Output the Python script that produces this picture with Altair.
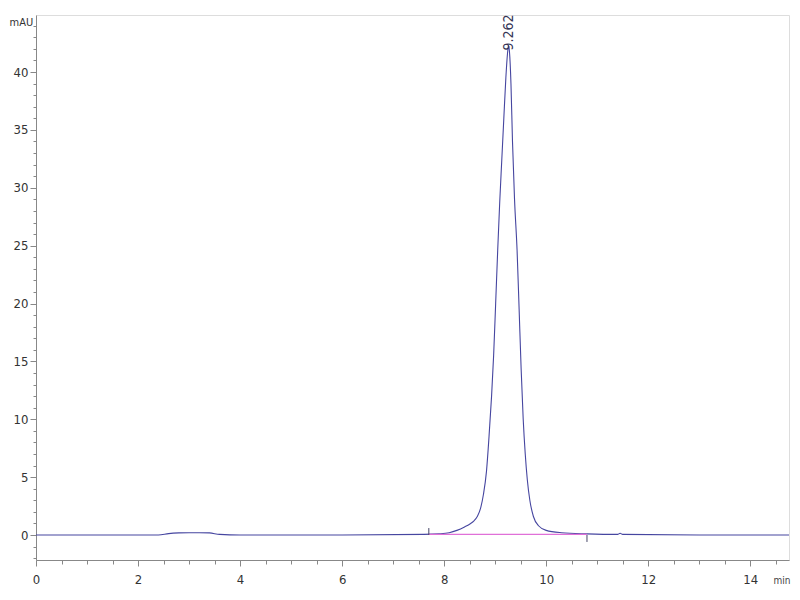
import altair as alt
import pandas as pd

# Chromatogram trace (min, mAU)
time_min = [0.0, 1.0, 2.4, 2.6, 2.8, 3.0, 3.2, 3.4, 3.6, 4.0, 6.0, 7.6, 7.9, 8.1,
            8.25, 8.4, 8.52, 8.58, 8.65, 8.72, 8.77, 8.83, 8.88, 8.93, 8.97,
            9.01, 9.05, 9.09, 9.13, 9.17, 9.21, 9.24, 9.262, 9.28, 9.31, 9.34,
            9.38, 9.43, 9.47, 9.51, 9.55, 9.59, 9.63, 9.68, 9.75, 9.85, 10.0,
            10.3, 10.8, 11.4, 11.45, 11.5, 13.0, 14.76]
absorb = [0.0, 0.0, 0.0, 0.12, 0.18, 0.2, 0.2, 0.18, 0.05, 0.0, 0.0, 0.05, 0.1, 0.2,
          0.4, 0.7, 1.0, 1.2, 1.6, 2.4, 3.5, 5.5, 8.5, 12.0, 15.5,
          20.0, 24.6, 28.8, 32.4, 36.0, 39.5, 41.5, 42.3, 41.8, 39.0, 34.0,
          29.0, 24.6, 19.5, 14.3, 10.0, 7.0, 4.8, 3.0, 1.6, 0.8, 0.4,
          0.2, 0.1, 0.05, 0.15, 0.05, 0.0, 0.0]

# Integration baseline
base_t = [7.7, 10.8]
base_v = [0.05, 0.05]

# Baseline start / end markers
mark_t = [7.7, 10.8]
mark_lo = [0.0, -0.6]
mark_hi = [0.6, 0.0]

# Peak annotation
peak_t = [9.262]
peak_v = [42.3]
peak_lbl = ["9.262"]

x_ticks = [i * 0.5 for i in range(0, 30)]
y_ticks = list(range(-2, 45))

FONT = "DejaVu Sans Condensed, Liberation Sans Narrow, sans-serif"

trace = pd.DataFrame({"t": time_min, "v": absorb})
base = pd.DataFrame({"t": base_t, "v": base_v})
marks = pd.DataFrame({"t": mark_t, "lo": mark_lo, "hi": mark_hi})
peak = pd.DataFrame({"t": peak_t, "v": peak_v, "lbl": peak_lbl})

xs = alt.Scale(domain=[0, 14.76], nice=False, zero=False)
ys = alt.Scale(domain=[-2.16, 44.93], nice=False, zero=False)

x_axis = alt.Axis(
    values=x_ticks, tickCount=500, grid=False, domainColor="#888888", tickColor="#888888",
    tickSize={"condition": {"test": "datum.value % 2 === 0", "value": 6}, "value": 4},
    labelExpr="datum.value % 2 === 0 ? format(datum.value, 'd') : ''",
    labelFont=FONT, labelFontSize=13, labelColor="#333333",
    labelPadding=7, title="min", titleFont=FONT,
    titleFontSize=10, titleFontWeight="normal", titleColor="#444444",
    titleAlign="left", titleAnchor="start", titleBaseline="middle",
    titleX=737, titleY=20,
    labelOverlap=False, labelFlush=False,
)
y_axis = alt.Axis(
    values=y_ticks, tickCount=500, grid=False, domainColor="#888888", tickColor="#888888",
    tickSize={"condition": {"test": "datum.value % 5 === 0", "value": 6}, "value": 3},
    labelExpr="datum.value % 5 === 0 ? format(datum.value, 'd') : ''",
    labelFont=FONT, labelFontSize=13, labelColor="#333333",
    labelPadding=2, title="mAU", titleAngle=0, titleFont=FONT,
    titleFontSize=11, titleFontWeight="normal", titleColor="#333333",
    titleAlign="left", titleBaseline="middle", titleX=-27, titleY=7,
    labelOverlap=False,
)

line = alt.Chart(trace).mark_line(color="#4646a0", strokeWidth=1.1, interpolate="monotone").encode(
    x=alt.X("t:Q", scale=xs, axis=x_axis),
    y=alt.Y("v:Q", scale=ys, axis=y_axis),
)
bl = alt.Chart(base).mark_line(color="#e070d8", strokeWidth=1.2).encode(
    x=alt.X("t:Q", scale=xs), y=alt.Y("v:Q", scale=ys)
)
mk = alt.Chart(marks).mark_rule(color="#444466", strokeWidth=1).encode(
    x=alt.X("t:Q", scale=xs), y=alt.Y("lo:Q", scale=ys), y2="hi:Q"
)
lbl = alt.Chart(peak).mark_text(angle=270, align="left", baseline="middle",
                                font=FONT, fontSize=14,
                                color="#333355", dx=-5).encode(
    x=alt.X("t:Q", scale=xs), y=alt.Y("v:Q", scale=ys), text="lbl:N"
)

chart = alt.layer(line, bl, mk, lbl).properties(
    width=753, height=545,
    padding={"left": 28, "top": 7, "right": 3, "bottom": 28},
    autosize=alt.AutoSizeParams(type="none"),
).configure_view(stroke=None).configure(background="white")

chart.save("out.html", embed_options={"renderer": "svg", "actions": False})
